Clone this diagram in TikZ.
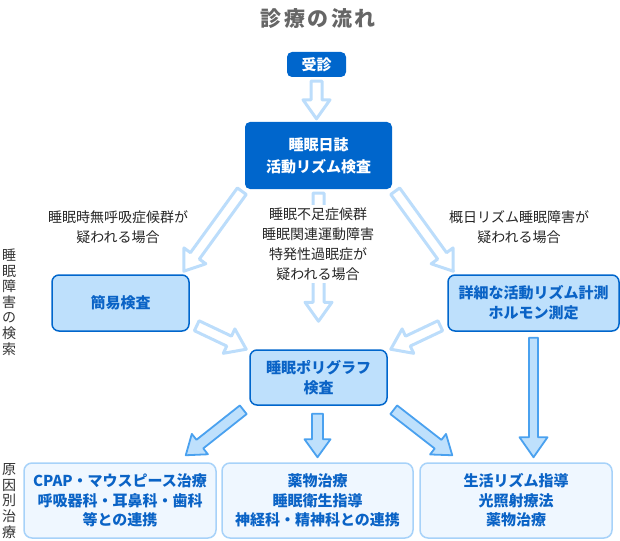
\documentclass[tikz,border=0pt]{standalone}
\usepackage{fontspec}
\setmainfont{Noto Sans CJK JP}
\usepackage{tikz}
\usetikzlibrary{calc,backgrounds}
\definecolor{deepblue}{HTML}{0066CC}
\definecolor{paleblue}{HTML}{BEE0FC}
\definecolor{boxtext}{HTML}{0A63C6}
\definecolor{icyblue}{HTML}{EFF7FF}
\definecolor{icyline}{HTML}{A7D2F9}
\definecolor{arrowline}{HTML}{BCDDFB}
\definecolor{arrowedge}{HTML}{4AA1EF}
\definecolor{titlegray}{HTML}{666666}
\tikzset{
  darkbox/.style={fill=deepblue, rounded corners=5pt, text=white, align=center, inner sep=0pt,
    font=\fontsize{15}{22}\selectfont\bfseries},
  palebox/.style={fill=paleblue, draw=deepblue, line width=1.5pt, rounded corners=7pt, text=boxtext,
    align=center, inner sep=0pt, font=\fontsize{15}{20}\selectfont\bfseries},
  curebox/.style={fill=icyblue, draw=icyline, line width=1.5pt, rounded corners=8pt, text=boxtext,
    align=center, inner sep=0pt, font=\fontsize{15}{19.5}\selectfont\bfseries},
  caselabel/.style={font=\fontsize{14}{20}\selectfont, text=black!85, align=center},
  sidelabel/.style={font=\fontsize{14}{15.6}\selectfont, text=black!80, align=center},
  hollowarrow/.style={draw=arrowline, fill=white, line width=3pt, line join=round},
  solidarrow/.style={draw=arrowedge, fill=paleblue, line width=1.8pt, line join=round}
}
\newcommand{\blockarrow}[6]{%
  \coordinate (ba-s) at (#2);
  \coordinate (ba-e) at (#3);
  \coordinate (ba-n) at ($(ba-e)!#6!(ba-s)$);
  \path[#1] ($(ba-s)!#4!90:(ba-e)$) -- ($(ba-n)!#4!90:(ba-e)$)
    -- ($(ba-n)!#5!90:(ba-e)$) -- (ba-e) -- ($(ba-n)!#5!-90:(ba-e)$)
    -- ($(ba-n)!#4!-90:(ba-e)$) -- ($(ba-s)!#4!-90:(ba-e)$) -- cycle;
}

\begin{document}
\begin{tikzpicture}[x=1pt,y=-1pt]

  \useasboundingbox (0,0) rectangle (620,540);

  \node[font=\fontsize{21}{21}\selectfont\bfseries, text=titlegray] at (318,19) (title)
    {診\kern2.5pt 療\kern2.5pt の\kern2.5pt 流\kern2.5pt れ};

  \node[darkbox, minimum width=59, minimum height=25] at (316.5,64.5) (visit) {受診};
  \node[darkbox, minimum width=147, minimum height=67] at (318.5,155.5) (diary) {睡眠日誌\\活動リズム検査};

  \node[caselabel] at (118,227) (apnea) {睡眠時無呼吸症候群が\\疑われる場合};
  \node[caselabel, fill=white, inner sep=3pt] at (318,244) (hyper) {睡眠不足症候群\\睡眠関連運動障害\\特発性過眠症が\\疑われる場合};
  \node[caselabel] at (519,227) (rhythm) {概日リズム睡眠障害が\\疑われる場合};

  \node[palebox, minimum width=137, minimum height=56] at (120.5,303) (simple) {簡易検査};
  \node[palebox, minimum width=171, minimum height=56] at (533.5,303) (detail) {詳細な活動リズム計測\\ホルモン測定};
  \node[palebox, minimum width=137, minimum height=55] at (318.5,377.5) (psg) {睡眠ポリグラフ\\検査};

  \node[curebox, minimum width=192, minimum height=75] at (120,500.5) (cpap) {CPAP・マウスピース治療\\呼吸器科・耳鼻科・歯科\\等との連携};
  \node[curebox, minimum width=191, minimum height=75] at (317.5,500.5) (drug) {薬物治療\\睡眠衛生指導\\神経科・精神科との連携};
  \node[curebox, minimum width=192, minimum height=75] at (516,500.5) (light) {生活リズム指導\\光照射療法\\薬物治療};

  \node[sidelabel] at (9,302) (search) {睡\\眠\\障\\害\\の\\検\\索};
  \node[sidelabel] at (9,501) (cause) {原\\因\\別\\治\\療};

  \begin{scope}[on background layer]
    \blockarrow{hollowarrow}{$(visit.south)+(0,4)$}{$(visit.south |- diary.north)+(0,-3)$}{5.5pt}{13.5pt}{19pt}
    \blockarrow{hollowarrow}{$(diary.south west)+(-3,2)$}{$(simple.north east)+(-6,-3)$}{5.5pt}{13.5pt}{19pt}
    \blockarrow{hollowarrow}{$(diary.south)+(0,4)$}{$(psg.north)+(0,-28)$}{5.5pt}{13.5pt}{19pt}
    \blockarrow{hollowarrow}{$(diary.south east)+(3,2)$}{$(detail.north west)+(6,-3)$}{5.5pt}{13.5pt}{19pt}
    \blockarrow{hollowarrow}{$(simple.south east)+(7,-6)$}{$(psg.north west)+(-3,0)$}{5.5pt}{13.5pt}{19pt}
    \blockarrow{hollowarrow}{$(detail.south west)+(-7,-6)$}{$(psg.north east)+(3,0)$}{5.5pt}{13.5pt}{19pt}

    \blockarrow{solidarrow}{$(psg.south west)+(-6,4)$}{$(cpap.north east)+(-31,-7)$}{5.5pt}{13pt}{18pt}
    \blockarrow{solidarrow}{$(psg.south -| drug.north)+(0,8)$}{$(drug.north)+(0,-5)$}{5.5pt}{13pt}{18pt}
    \blockarrow{solidarrow}{$(psg.south east)+(6,4)$}{$(light.north west)+(33,-7)$}{5.5pt}{13pt}{18pt}
    \blockarrow{solidarrow}{$(detail.south)+(0,6)$}{$(detail.south |- light.north)+(0,-5)$}{4.5pt}{14pt}{20pt}
  \end{scope}

\end{tikzpicture}
\end{document}
